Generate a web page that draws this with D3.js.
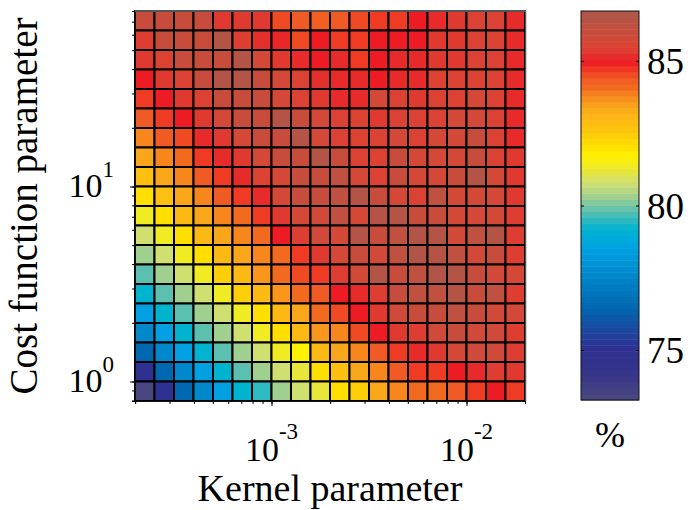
<!DOCTYPE html>
<html>
<head>
<meta charset="utf-8">
<script src="https://cdn.jsdelivr.net/npm/d3@7"></script>
<style>
  body { margin: 0; background: #fff; }
  text { font-family: "Liberation Serif", "Times New Roman", serif; fill: #000; }
</style>
</head>
<body>
<div id="chart"></div>
<script>
// kernel parameter: log10 of the left edge of each column
var kernelExp = [-3.7, -3.6, -3.5, -3.4, -3.3, -3.2, -3.1, -3.0, -2.9, -2.8,
                 -2.7, -2.6, -2.5, -2.4, -2.3, -2.2, -2.1, -2.0, -1.9, -1.8];
// cost function parameter: log10 of the lower edge of each row, top row first
var costExp = [1.8, 1.7, 1.6, 1.5, 1.4, 1.3, 1.2, 1.1, 1.0, 0.9,
               0.8, 0.7, 0.6, 0.5, 0.4, 0.3, 0.2, 0.1, 0.0, -0.1];

// accuracy (%), one row per cost value (top first), one column per kernel value
var accuracy = [
  [86.0, 86.0, 86.0, 86.0, 85.3, 85.3, 85.3, 84.55, 84.4, 84.3, 84.4, 84.55, 84.7, 84.7, 85.0, 85.15, 85.3, 85.5, 85.5, 85.15],
  [85.4, 86.0, 86.0, 86.0, 86.5, 85.4, 85.2, 85.1, 84.55, 85.0, 84.7, 84.7, 85.0, 85.0, 85.0, 85.3, 85.3, 85.5, 85.5, 85.15],
  [85.3, 85.5, 86.0, 86.0, 86.0, 86.5, 85.7, 85.3, 85.15, 85.0, 85.15, 84.7, 85.0, 85.15, 85.15, 85.3, 85.3, 85.5, 85.5, 85.15],
  [85.0, 85.3, 85.5, 86.0, 86.5, 86.5, 86.0, 85.7, 85.5, 85.2, 85.15, 85.15, 85.0, 85.15, 85.15, 85.5, 85.5, 85.5, 85.5, 85.15],
  [84.7, 85.0, 85.3, 85.5, 86.0, 86.0, 86.0, 85.7, 85.5, 85.3, 85.15, 85.15, 85.7, 85.5, 85.3, 85.5, 85.5, 85.7, 85.5, 85.15],
  [84.4, 84.7, 85.0, 85.3, 85.7, 86.0, 86.0, 86.5, 86.0, 85.7, 85.5, 85.5, 85.3, 85.5, 85.5, 85.5, 85.7, 85.7, 85.5, 85.15],
  [83.8, 84.4, 84.55, 85.15, 85.3, 85.7, 86.0, 86.0, 86.5, 85.7, 85.5, 85.5, 85.5, 85.7, 85.5, 85.7, 85.7, 86.0, 85.5, 85.15],
  [83.4, 83.8, 84.1, 84.7, 85.15, 85.3, 85.7, 86.0, 86.0, 86.5, 86.0, 85.5, 85.5, 86.0, 85.7, 85.7, 85.7, 86.0, 85.5, 85.3],
  [82.7, 83.4, 83.8, 84.4, 84.7, 85.15, 85.5, 85.7, 86.0, 86.0, 86.2, 85.7, 85.5, 86.0, 85.7, 85.7, 86.0, 86.5, 85.7, 85.3],
  [82.1, 82.7, 83.4, 83.8, 84.4, 84.7, 85.15, 85.7, 86.0, 86.0, 86.2, 86.5, 86.0, 85.7, 85.5, 86.2, 85.7, 85.7, 85.7, 85.3],
  [81.4, 82.1, 83.0, 83.4, 83.8, 84.1, 84.7, 85.3, 85.7, 85.8, 86.2, 85.7, 86.5, 86.5, 86.0, 86.0, 85.7, 85.7, 85.7, 85.4],
  [80.8, 81.4, 82.1, 83.0, 83.4, 83.8, 84.1, 85.0, 85.4, 85.8, 85.7, 86.5, 86.0, 86.2, 86.5, 86.5, 85.8, 86.2, 86.5, 85.4],
  [80.3, 80.8, 81.4, 82.1, 83.0, 83.4, 83.8, 84.1, 84.7, 85.3, 85.7, 86.0, 85.8, 86.2, 86.6, 86.5, 86.2, 85.8, 86.0, 85.4],
  [79.8, 80.3, 80.8, 81.4, 82.4, 83.0, 83.6, 84.1, 84.55, 84.7, 85.4, 85.8, 86.5, 86.0, 86.2, 86.6, 86.5, 86.0, 85.8, 85.7],
  [79.2, 79.8, 80.3, 80.8, 81.4, 82.4, 83.0, 83.6, 84.1, 84.4, 85.0, 85.15, 85.4, 86.0, 86.2, 86.2, 86.5, 86.0, 86.2, 85.4],
  [78.5, 79.2, 79.8, 80.3, 80.8, 81.4, 82.1, 83.0, 83.4, 84.1, 84.55, 85.0, 85.3, 85.8, 86.0, 86.0, 86.2, 86.0, 85.8, 85.7],
  [77.6, 78.5, 79.2, 79.8, 80.3, 80.8, 81.4, 82.1, 83.0, 83.6, 83.8, 84.55, 85.0, 85.3, 85.4, 85.8, 86.0, 85.8, 85.8, 85.4],
  [76.5, 77.6, 78.5, 79.2, 79.8, 80.3, 80.8, 81.4, 81.7, 83.0, 83.4, 83.8, 84.4, 84.7, 85.15, 85.3, 85.7, 85.8, 85.8, 85.4],
  [75.1, 76.5, 77.6, 78.5, 79.2, 79.8, 80.3, 80.8, 81.2, 82.1, 82.7, 83.4, 83.8, 84.4, 84.7, 84.7, 85.0, 85.15, 85.4, 85.3],
  [73.4, 75.1, 76.5, 77.6, 78.5, 79.2, 79.5, 80.3, 80.8, 81.2, 82.1, 82.4, 83.4, 83.8, 84.1, 84.1, 84.4, 84.7, 85.0, 84.7]
];

var xMajor = [-3, -2];
var yMajor = [0, 1];
var cbarTicks = [75, 80, 85];
var cbarRange = [73.27, 86.73];

// colormap stops
var cmapValues = [73.3, 74.3, 75.1, 76.5, 77.6, 78.5, 79.2, 79.8, 80.3, 80.8, 81.2, 81.7, 82.1, 82.7,
                  83.0, 83.4, 83.8, 84.1, 84.4, 84.7, 85.0, 85.3, 85.5, 85.7, 86.0, 86.2, 86.6, 86.8];
var cmapColors = ["#4b4880", "#35338a", "#2e3192", "#0068b0", "#0088cc", "#00a0e3", "#00b4d0", "#5bc0b0",
                  "#a0d090", "#d0e070", "#e8e63a", "#fff200", "#ffde00", "#fdc010", "#fdb913", "#faa61a",
                  "#f7861d", "#f26a20", "#f05a24", "#ef3a24", "#ed1c24", "#e03a30", "#dc4234", "#d44838",
                  "#c84c3c", "#c05040", "#b05548", "#a85a4c"];

function init() {
    var W = 688, H = 510;
    var left = 135, right = 525, top = 11, bottom = 401;

    var svg = d3.select("#chart").append("svg")
        .attr("width", W)
        .attr("height", H);

    var xScale = d3.scaleLog()
        .domain([Math.pow(10, -3.7), Math.pow(10, -1.7)])
        .range([left, right]);
    var yScale = d3.scaleLog()
        .domain([Math.pow(10, -0.1), Math.pow(10, 1.9)])
        .range([bottom, top]);

    var color = d3.scaleLinear()
        .domain(cmapValues)
        .range(cmapColors)
        .clamp(true);

    var cells = [];
    accuracy.forEach(function(row, r) {
        row.forEach(function(v, c) {
            cells.push({kx: kernelExp[c], cy: costExp[r], v: v});
        });
    });

    svg.append("g").selectAll("rect")
        .data(cells)
        .enter()
        .append("rect")
        .attr("x", function(d) { return xScale(Math.pow(10, d.kx)); })
        .attr("y", function(d) { return yScale(Math.pow(10, d.cy + 0.1)); })
        .attr("width", function(d) { return xScale(Math.pow(10, d.kx + 0.1)) - xScale(Math.pow(10, d.kx)); })
        .attr("height", function(d) { return yScale(Math.pow(10, d.cy)) - yScale(Math.pow(10, d.cy + 0.1)); })
        .attr("fill", function(d) { return color(d.v); })
        .attr("stroke", "#000")
        .attr("stroke-width", 2);

    // log ticks (minor + major), labels drawn separately with superscripts
    var xMinor = [], yMinor = [];
    [-4, -3, -2].forEach(function(e) {
        for (var m = 1; m < 10; m++) {
            var t = m * Math.pow(10, e);
            if (t >= xScale.domain()[0] * 0.999 && t <= xScale.domain()[1]) xMinor.push(t);
        }
    });
    [-1, 0, 1].forEach(function(e) {
        for (var m = 1; m < 10; m++) {
            var t = m * Math.pow(10, e);
            if (t >= yScale.domain()[0] * 0.999 && t <= yScale.domain()[1]) yMinor.push(t);
        }
    });

    svg.append("g")
        .attr("transform", "translate(0," + bottom + ")")
        .call(d3.axisBottom(xScale).tickValues(xMinor).tickSize(3).tickFormat(""))
        .call(function(g) { g.select(".domain").attr("stroke", "#111"); });
    svg.append("g")
        .attr("transform", "translate(0," + bottom + ")")
        .call(d3.axisBottom(xScale).tickValues(xMajor.map(function(e) { return Math.pow(10, e); }))
            .tickSize(5).tickFormat(""))
        .call(function(g) { g.select(".domain").remove(); });
    svg.append("g")
        .attr("transform", "translate(" + left + ",0)")
        .call(d3.axisLeft(yScale).tickValues(yMinor).tickSize(3).tickFormat(""))
        .call(function(g) { g.select(".domain").attr("stroke", "#111"); });
    svg.append("g")
        .attr("transform", "translate(" + left + ",0)")
        .call(d3.axisLeft(yScale).tickValues(yMajor.map(function(e) { return Math.pow(10, e); }))
            .tickSize(5).tickFormat(""))
        .call(function(g) { g.select(".domain").remove(); });

    // thin axes box on right / top
    svg.append("path")
        .attr("d", "M" + left + "," + top + "H" + (right + 1) + "V" + bottom)
        .attr("fill", "none")
        .attr("stroke", "#aaa")
        .attr("stroke-width", 1);

    var xl = svg.append("g").selectAll("text")
        .data(xMajor)
        .enter()
        .append("text")
        .attr("x", function(e) { return xScale(Math.pow(10, e)); })
        .attr("y", 461)
        .attr("text-anchor", "middle")
        .style("font-size", "34px");
    xl.append("tspan").text("10");
    xl.append("tspan").attr("dy", -22).style("font-size", "23px").text(function(e) { return e; });

    var yl = svg.append("g").selectAll("text")
        .data(yMajor)
        .enter()
        .append("text")
        .attr("x", 114)
        .attr("y", function(e) { return yScale(Math.pow(10, e)) + 10; })
        .attr("text-anchor", "end")
        .style("font-size", "34px");
    yl.append("tspan").text("10");
    yl.append("tspan").attr("dy", -20).style("font-size", "23px").text(function(e) { return e; });

    svg.append("text")
        .attr("x", (left + right) / 2)
        .attr("y", 501)
        .attr("text-anchor", "middle")
        .style("font-size", "38px")
        .text("Kernel parameter");

    svg.append("text")
        .attr("transform", "translate(37," + ((top + bottom) / 2) + ") rotate(-90)")
        .attr("text-anchor", "middle")
        .style("font-size", "39px")
        .text("Cost function parameter");

    // colour bar
    var cbLeft = 581, cbWidth = 58;
    var cbScale = d3.scaleLinear().domain(cbarRange).range([400, 11]);
    var nBands = 64;
    var step = (cbarRange[1] - cbarRange[0]) / nBands;
    var bands = d3.range(nBands).map(function(i) { return cbarRange[0] + i * step; });

    svg.append("g").selectAll("rect")
        .data(bands)
        .enter()
        .append("rect")
        .attr("x", cbLeft)
        .attr("y", function(d) { return cbScale(d + step); })
        .attr("width", cbWidth)
        .attr("height", function(d) { return cbScale(d) - cbScale(d + step) + 0.5; })
        .attr("fill", function(d) { return color(d + step / 2); });

    svg.append("rect")
        .attr("x", cbLeft)
        .attr("y", cbScale(cbarRange[1]))
        .attr("width", cbWidth)
        .attr("height", cbScale(cbarRange[0]) - cbScale(cbarRange[1]))
        .attr("fill", "none")
        .attr("stroke", "#111")
        .attr("stroke-width", 1);

    svg.append("g")
        .attr("transform", "translate(" + cbLeft + ",0)")
        .call(d3.axisRight(cbScale).tickValues(cbarTicks).tickSize(3).tickFormat(""))
        .call(function(g) { g.select(".domain").remove(); });
    svg.append("g")
        .attr("transform", "translate(" + (cbLeft + cbWidth) + ",0)")
        .call(d3.axisLeft(cbScale).tickValues(cbarTicks).tickSize(3).tickFormat(""))
        .call(function(g) { g.select(".domain").remove(); });

    svg.append("g").selectAll("text")
        .data(cbarTicks)
        .enter()
        .append("text")
        .attr("x", 647)
        .attr("y", function(d) { return cbScale(d) + 13; })
        .style("font-size", "37px")
        .text(function(d) { return d; });

    svg.append("text")
        .attr("x", cbLeft + cbWidth / 2)
        .attr("y", 447)
        .attr("text-anchor", "middle")
        .style("font-size", "36px")
        .text("%");
}

window.onload = init;
</script>
</body>
</html>
